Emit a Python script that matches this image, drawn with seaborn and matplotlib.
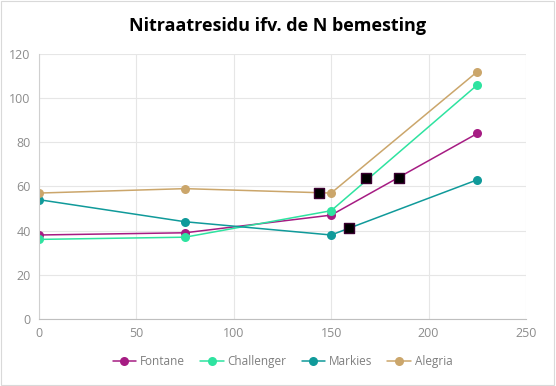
import matplotlib
matplotlib.use("Agg")
import matplotlib.pyplot as plt
import seaborn as sns
import pandas as pd
from matplotlib.patches import Rectangle

n_dose = [0, 75, 150, 225]
fontane = [38, 39, 47, 84]
challenger = [36, 37, 49, 106]
markies = [54, 44, 38, 63]
alegria = [57, 59, 57, 112]
series_names = ["Fontane", "Challenger", "Markies", "Alegria"]
colors = ["#A61C83", "#2EE3A0", "#109A9A", "#CBA66B"]

opt_x = [144, 168, 185, 159]
opt_y = [57, 64, 64, 41]

x_ticks = [0, 50, 100, 150, 200, 250]
y_ticks = [0, 20, 40, 60, 80, 100, 120]
title = "Nitraatresidu ifv. de N bemesting"

rows = []
for name, vals in zip(series_names, [fontane, challenger, markies, alegria]):
    for x, y in zip(n_dose, vals):
        rows.append({"N": x, "residu": y, "ras": name})
df = pd.DataFrame(rows)
opt = pd.DataFrame({"N": opt_x, "residu": opt_y})

sns.set_style("white")
plt.rcParams["font.family"] = ["Open Sans", "DejaVu Sans"]

fig = plt.figure(figsize=(5.56, 3.86), dpi=100)
ax = fig.add_axes([0.070, 0.174, 0.876, 0.686])

sns.lineplot(data=df, x="N", y="residu", hue="ras", hue_order=series_names,
             palette=colors, marker="o", markersize=6.5, markeredgewidth=0,
             linewidth=1.1, ax=ax, legend=True)
sns.scatterplot(data=opt, x="N", y="residu", marker="s", s=48, color="black",
                edgecolor="#3A0030", linewidth=1.0, ax=ax, zorder=5, legend=False)

ax.set_xlim(0, 250)
ax.set_ylim(0, 120)
ax.set_xticks(x_ticks)
ax.set_yticks(y_ticks)
ax.grid(True, color="#E6E6E6", linewidth=0.8)
ax.set_axisbelow(True)
for s in ["top", "right"]:
    ax.spines[s].set_visible(False)
ax.spines["left"].set_color("#D0D0D0")
ax.spines["bottom"].set_color("#BFBFBF")
ax.tick_params(axis="both", length=0, labelsize=9, labelcolor="#8C8C8C", pad=6)
ax.set_xlabel("")
ax.set_ylabel("")

handles, labels = ax.get_legend_handles_labels()
leg = ax.legend(handles, labels, loc="center", bbox_to_anchor=(0.5, -0.16),
                ncol=4, frameon=False, fontsize=8.5, handlelength=2.0,
                columnspacing=1.3, handletextpad=0.3, labelcolor="#7F7F7F")

fig.text(0.5, 0.933, title, ha="center", va="center", fontsize=13,
         fontweight="bold", color="black")

fig.patches.append(Rectangle((0.002, 0.003), 0.995, 0.994, transform=fig.transFigure,
                             fill=False, edgecolor="#D9D9D9", linewidth=0.8))

fig.savefig("out.png", dpi=100)
